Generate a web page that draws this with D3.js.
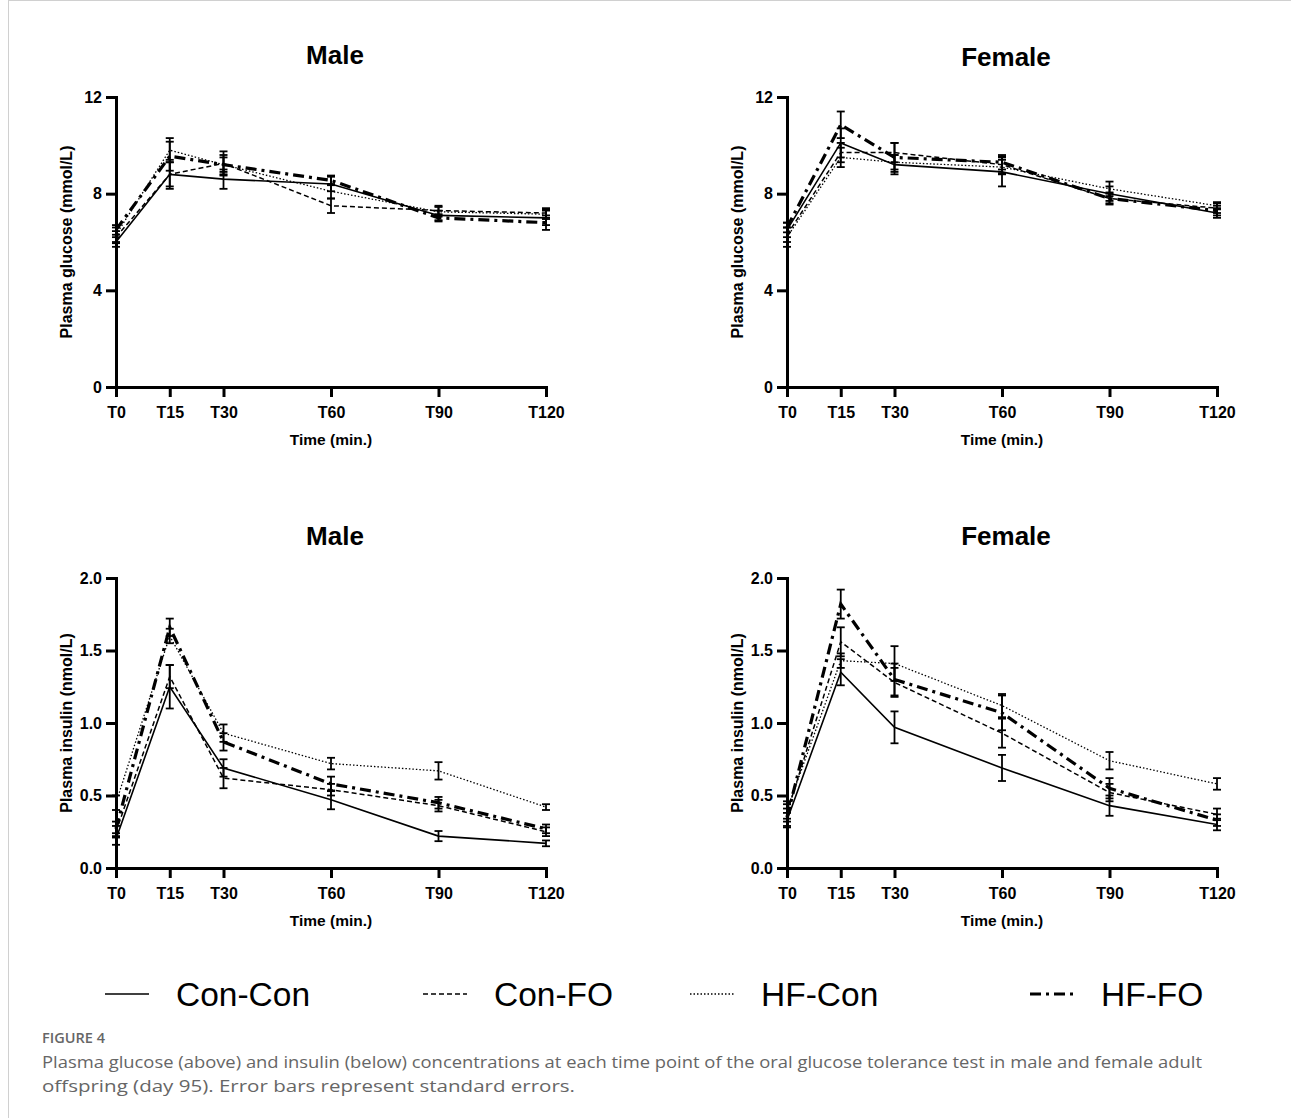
<!DOCTYPE html>
<html>
<head>
<meta charset="utf-8">
<script src="https://cdn.jsdelivr.net/npm/d3@7"></script>
<style>
  body { margin: 0; background: #fff; }
  svg text { font-family: "Liberation Sans", Arial, sans-serif; }
</style>
</head>
<body>
<div id="chart"></div>
<script>
// Time points and labels
var times = [0, 15, 30, 60, 90, 120];
var timeLabels = ["T0", "T15", "T30", "T60", "T90", "T120"];
var groups = ["Con-Con", "Con-FO", "HF-Con", "HF-FO"];

var glucoseTicks = [0, 4, 8, 12];
var insulinTicks = [0, 0.5, 1.0, 1.5, 2.0];

// Means, one row per group (Con-Con, Con-FO, HF-Con, HF-FO)
var maleGlucoseMean = [
  [6.0, 8.8, 8.6, 8.4, 7.1, 7.0],
  [6.2, 8.8, 9.25, 7.5, 7.3, 7.2],
  [6.3, 9.8, 9.2, 8.1, 7.25, 7.15],
  [6.5, 9.55, 9.2, 8.55, 7.0, 6.8]
];
var maleGlucoseSE = [
  [0.2, 0.6, 0.4, 0.3, 0.2, 0.3],
  [0.25, 0.5, 0.5, 0.3, 0.2, 0.2],
  [0.3, 0.5, 0.3, 0.3, 0.2, 0.2],
  [0.2, 0.6, 0.4, 0.2, 0.15, 0.3]
];
var femaleGlucoseMean = [
  [6.5, 10.1, 9.2, 8.9, 8.0, 7.2],
  [6.3, 9.7, 9.7, 9.2, 7.8, 7.4],
  [6.2, 9.5, 9.3, 9.1, 8.2, 7.5],
  [6.6, 10.85, 9.5, 9.3, 7.8, 7.3]
];
var femaleGlucoseSE = [
  [0.3, 0.6, 0.4, 0.6, 0.3, 0.2],
  [0.3, 0.4, 0.4, 0.35, 0.25, 0.2],
  [0.4, 0.4, 0.3, 0.3, 0.3, 0.15],
  [0.2, 0.55, 0.6, 0.3, 0.2, 0.2]
];
var maleInsulinMean = [
  [0.2, 1.25, 0.69, 0.47, 0.22, 0.17],
  [0.25, 1.32, 0.62, 0.54, 0.43, 0.25],
  [0.45, 1.6, 0.93, 0.72, 0.67, 0.42],
  [0.27, 1.66, 0.87, 0.58, 0.45, 0.27]
];
var maleInsulinSE = [
  [0.04, 0.15, 0.06, 0.065, 0.035, 0.02],
  [0.04, 0.08, 0.07, 0.04, 0.04, 0.03],
  [0.05, 0.05, 0.06, 0.04, 0.06, 0.02],
  [0.05, 0.06, 0.06, 0.05, 0.04, 0.03]
];
var femaleInsulinMean = [
  [0.33, 1.35, 0.97, 0.69, 0.43, 0.3],
  [0.38, 1.56, 1.28, 0.93, 0.52, 0.37],
  [0.4, 1.43, 1.41, 1.12, 0.74, 0.58],
  [0.35, 1.82, 1.3, 1.07, 0.55, 0.33]
];
var femaleInsulinSE = [
  [0.05, 0.09, 0.11, 0.09, 0.07, 0.04],
  [0.06, 0.1, 0.1, 0.1, 0.06, 0.04],
  [0.06, 0.05, 0.12, 0.08, 0.06, 0.04],
  [0.06, 0.1, 0.11, 0.12, 0.07, 0.04]
];

// Line style per group
var lineStyles = [
  { width: 1.6, dash: null },
  { width: 1.5, dash: "5,3" },
  { width: 1.3, dash: "1.5,2" },
  { width: 3.2, dash: "11,5,3,5" }
];

var svgWidth = 1291;
var svgHeight = 1118;
var plotW = 430;
var plotH = 290;

var svg = d3.select("#chart")
  .append("svg")
  .attr("width", svgWidth)
  .attr("height", svgHeight);

// thin page border
svg.append("line").attr("x1", 8).attr("x2", svgWidth).attr("y1", 0.5).attr("y2", 0.5)
  .attr("stroke", "#d0d0d0");
svg.append("line").attr("x1", 8.5).attr("x2", 8.5).attr("y1", 0).attr("y2", svgHeight)
  .attr("stroke", "#d0d0d0");

var panels = [
  { title: "Male", left: 116, top: 97, mean: maleGlucoseMean, se: maleGlucoseSE,
    max: 12, ticks: glucoseTicks, fmt: d3.format("d"), ylabel: "Plasma glucose (mmol/L)" },
  { title: "Female", left: 787, top: 97, mean: femaleGlucoseMean, se: femaleGlucoseSE,
    max: 12, ticks: glucoseTicks, fmt: d3.format("d"), ylabel: "Plasma glucose (mmol/L)" },
  { title: "Male", left: 116, top: 578, mean: maleInsulinMean, se: maleInsulinSE,
    max: 2, ticks: insulinTicks, fmt: d3.format(".1f"), ylabel: "Plasma insulin (nmol/L)" },
  { title: "Female", left: 787, top: 578, mean: femaleInsulinMean, se: femaleInsulinSE,
    max: 2, ticks: insulinTicks, fmt: d3.format(".1f"), ylabel: "Plasma insulin (nmol/L)" }
];

panels.forEach(drawPanel);

function drawPanel(p) {
  var g = svg.append("g")
    .attr("transform", `translate(${p.left}, ${p.top})`);

  var x = d3.scaleLinear().domain([0, 120]).range([0, plotW]);
  var y = d3.scaleLinear().domain([0, p.max]).range([plotH, 0]);

  var line = d3.line()
    .x((d, i) => x(times[i]))
    .y(d => y(d));

  // error bars
  p.mean.forEach(function(row, k) {
    var eg = g.append("g");
    row.forEach(function(m, i) {
      var cx = x(times[i]);
      var lo = y(m - p.se[k][i]);
      var hi = y(m + p.se[k][i]);
      eg.append("line").attr("x1", cx).attr("x2", cx).attr("y1", lo).attr("y2", hi)
        .attr("stroke", "#000").attr("stroke-width", 1.8);
      [lo, hi].forEach(function(cy) {
        eg.append("line").attr("x1", cx - 4).attr("x2", cx + 4).attr("y1", cy).attr("y2", cy)
          .attr("stroke", "#000").attr("stroke-width", 1.8);
      });
    });
  });

  // mean lines
  p.mean.forEach(function(row, k) {
    g.append("path")
      .datum(row)
      .attr("d", line)
      .attr("fill", "none")
      .attr("stroke", "#000")
      .attr("stroke-width", lineStyles[k].width)
      .attr("stroke-dasharray", lineStyles[k].dash);
  });

  // axes
  var xAxis = d3.axisBottom(x)
    .tickValues(times)
    .tickFormat((d, i) => timeLabels[i])
    .tickSize(10)
    .tickSizeOuter(0)
    .tickPadding(10);
  var yAxis = d3.axisLeft(y)
    .tickValues(p.ticks)
    .tickFormat(p.fmt)
    .tickSize(10)
    .tickSizeOuter(0)
    .tickPadding(4);

  var gx = g.append("g").attr("transform", `translate(0, ${plotH})`).call(xAxis);
  var gy = g.append("g").call(yAxis);

  [gx, gy].forEach(function(a) {
    a.select(".domain").attr("stroke-width", 3).attr("stroke-linecap", "square");
    a.selectAll(".tick line").attr("stroke-width", 3);
    a.selectAll(".tick text")
      .attr("fill", "#000")
      .style("font-size", "16px")
      .style("font-weight", "bold")
      .style("font-family", "'Liberation Sans', Arial, sans-serif");
  });

  // y axis label
  g.append("text")
    .attr("transform", `translate(-44, ${plotH / 2}) rotate(-90)`)
    .attr("text-anchor", "middle")
    .style("font-size", "16px")
    .style("font-weight", "bold")
    .text(p.ylabel);

  // x axis label
  g.append("text")
    .attr("x", plotW / 2)
    .attr("y", plotH + 58)
    .attr("text-anchor", "middle")
    .style("font-size", "15.5px")
    .style("font-weight", "bold")
    .text("Time (min.)");

  // panel title
  g.append("text")
    .attr("x", plotW / 2 + 4)
    .attr("y", p.title == "Female" && p.top < 300 ? -31 : -33)
    .attr("text-anchor", "middle")
    .style("font-size", "26px")
    .style("font-weight", "bold")
    .text(p.title);
}

// Legend
var legendX = [105, 423, 690, 1030];
var legendG = svg.append("g").attr("transform", "translate(0, 994)");
groups.forEach(function(name, k) {
  legendG.append("line")
    .attr("x1", legendX[k]).attr("x2", legendX[k] + 44)
    .attr("y1", 0).attr("y2", 0)
    .attr("stroke", "#000")
    .attr("stroke-width", lineStyles[k].width)
    .attr("stroke-dasharray", lineStyles[k].dash);
  legendG.append("text")
    .attr("x", legendX[k] + 71)
    .attr("y", 12)
    .style("font-size", "33.5px")
    .text(name);
});

// Caption
var caption = svg.append("g");
caption.append("text")
  .attr("x", 42).attr("y", 1043)
  .attr("fill", "#666")
  .attr("textLength", 63)
  .attr("lengthAdjust", "spacingAndGlyphs")
  .style("font-size", "13.5px")
  .style("font-weight", "600")
  .style("font-family", "'Open Sans', sans-serif")
  .text("FIGURE 4");
caption.append("text")
  .attr("x", 42).attr("y", 1068)
  .attr("fill", "#666")
  .attr("textLength", 1160)
  .attr("lengthAdjust", "spacingAndGlyphs")
  .style("font-size", "17px")
  .style("font-family", "'Open Sans', sans-serif")
  .text("Plasma glucose (above) and insulin (below) concentrations at each time point of the oral glucose tolerance test in male and female adult");
caption.append("text")
  .attr("x", 42).attr("y", 1092)
  .attr("fill", "#666")
  .attr("textLength", 533)
  .attr("lengthAdjust", "spacingAndGlyphs")
  .style("font-size", "17px")
  .style("font-family", "'Open Sans', sans-serif")
  .text("offspring (day 95). Error bars represent standard errors.");
</script>
</body>
</html>
